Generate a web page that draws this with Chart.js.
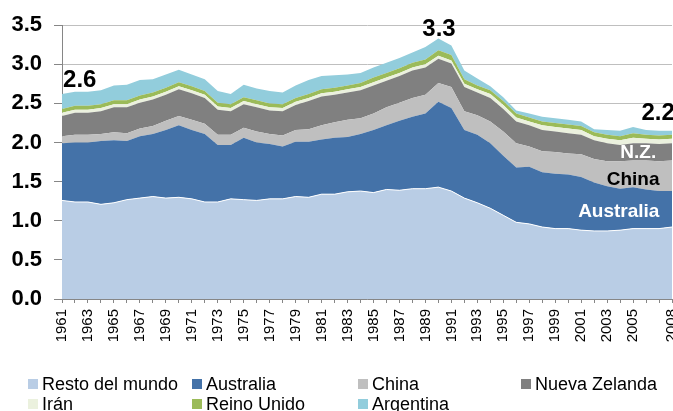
<!DOCTYPE html>
<html>
<head>
<meta charset="utf-8">
<script src="https://cdn.jsdelivr.net/npm/chart.js@4/dist/chart.umd.min.js"></script>
<style>
  html, body { margin: 0; padding: 0; background: #ffffff; }
  #wrap { width: 673px; height: 411px; position: relative; }
</style>
</head>
<body>
<div id="wrap"><canvas id="c" width="673" height="411"></canvas></div>
<script>
// ---- data ----
const years = [];
for (let y = 1961; y <= 2008; y++) years.push(String(y));

const seriesNames = ["Resto del mundo", "Australia", "China", "Nueva Zelanda", "Irán", "Reino Unido", "Argentina"];

const resto = [1.26,1.24,1.24,1.21,1.23,1.27,1.29,1.31,1.29,1.30, 1.28,1.24,1.24,1.28,1.27,1.26,1.28,1.28,1.31,1.30, 1.34,1.34,1.37,1.38,1.36,1.40,1.39,1.41,1.41,1.43, 1.38,1.29,1.23,1.16,1.07,0.98,0.96,0.92,0.90,0.90, 0.88,0.87,0.87,0.88,0.90,0.90,0.90,0.92];
const australia = [0.73,0.76,0.76,0.81,0.80,0.75,0.79,0.80,0.87,0.92, 0.88,0.87,0.73,0.69,0.79,0.74,0.70,0.67,0.70,0.71, 0.70,0.72,0.70,0.73,0.80,0.82,0.89,0.92,0.96,1.09, 1.06,0.87,0.87,0.83,0.76,0.70,0.73,0.70,0.70,0.69, 0.68,0.62,0.57,0.53,0.53,0.50,0.48,0.46];
const china = [0.09,0.10,0.10,0.09,0.10,0.10,0.10,0.10,0.12,0.12, 0.13,0.13,0.13,0.13,0.13,0.14,0.13,0.14,0.15,0.16, 0.18,0.20,0.22,0.20,0.21,0.23,0.23,0.24,0.24,0.24, 0.27,0.24,0.25,0.28,0.31,0.31,0.26,0.27,0.28,0.27, 0.29,0.30,0.32,0.35,0.34,0.37,0.38,0.39];
const nuevaZelanda = [0.26,0.28,0.28,0.29,0.32,0.33,0.33,0.34,0.33,0.34, 0.34,0.33,0.32,0.30,0.30,0.31,0.30,0.31,0.32,0.36, 0.37,0.35,0.35,0.36,0.36,0.34,0.34,0.35,0.35,0.31, 0.30,0.31,0.29,0.30,0.29,0.28,0.27,0.27,0.26,0.26, 0.25,0.24,0.23,0.21,0.22,0.22,0.22,0.22];
const iran = [0.04,0.04,0.04,0.04,0.04,0.04,0.04,0.04,0.04,0.04, 0.04,0.04,0.04,0.04,0.04,0.04,0.04,0.04,0.04,0.04, 0.04,0.04,0.04,0.04,0.04,0.04,0.04,0.04,0.04,0.04, 0.04,0.04,0.04,0.05,0.05,0.05,0.05,0.06,0.06,0.06, 0.06,0.05,0.06,0.06,0.07,0.06,0.06,0.06];
const reinoUnido = [0.05,0.05,0.05,0.05,0.05,0.05,0.05,0.05,0.05,0.05, 0.05,0.05,0.05,0.05,0.05,0.05,0.05,0.05,0.05,0.05, 0.05,0.05,0.05,0.05,0.06,0.06,0.06,0.06,0.06,0.07, 0.07,0.06,0.05,0.05,0.05,0.05,0.05,0.05,0.05,0.05, 0.05,0.05,0.05,0.05,0.06,0.05,0.05,0.05];
const argentina = [0.19,0.18,0.18,0.18,0.19,0.20,0.20,0.17,0.17,0.16, 0.15,0.15,0.15,0.13,0.16,0.15,0.16,0.15,0.16,0.18, 0.17,0.16,0.14,0.13,0.13,0.13,0.13,0.13,0.16,0.15, 0.12,0.11,0.09,0.05,0.05,0.04,0.05,0.06,0.06,0.06, 0.06,0.04,0.06,0.07,0.08,0.06,0.06,0.05];

const yTicks = [0, 0.5, 1.0, 1.5, 2.0, 2.5, 3.0, 3.5];
const shownYearLabels = ["1961","1963","1965","1967","1969","1971","1973","1975","1977","1979","1981","1983","1985","1987","1989","1991","1993","1995","1997","1999","2001","2003","2005","2008"];

const colors = ["#B9CDE5", "#4472A8", "#BFBFBF", "#808080", "#EBF1DE", "#9BBB59", "#92CDDC"];

// annotations: [text, category index, value, color, align, font size]
const notes = [
  ["2.6", 0.08, 2.80, "#000000", "left", 24],
  ["3.3", 29.05, 3.45, "#000000", "center", 24],
  ["2.2", 44.65, 2.37, "#000000", "left", 24],
  ["N.Z.", 44.4, 1.87, "#ffffff", "center", 19],
  ["China", 44.0, 1.52, "#000000", "center", 19],
  ["Australia", 42.9, 1.12, "#ffffff", "center", 19]
];

const FONT = "'Liberation Sans', Arial, Helvetica, sans-serif";
const allSeries = [resto, australia, china, nuevaZelanda, iran, reinoUnido, argentina];

const datasets = allSeries.map((d, i) => ({
  label: seriesNames[i],
  data: d,
  backgroundColor: colors[i],
  borderColor: i === 0 ? "#ffffff" : colors[i],
  borderWidth: i === 0 ? 1 : 0,
  fill: i === 0 ? "origin" : "-1",
  pointRadius: 0,
  pointHoverRadius: 0,
  tension: 0
}));

const notesPlugin = {
  id: "notes",
  afterDatasetsDraw(chart) {
    const ctx = chart.ctx, xs = chart.scales.x, ys = chart.scales.y;
    ctx.save();
    notes.forEach(n => {
      const x = xs.getPixelForValue(n[1]);
      const y = ys.getPixelForValue(n[2]);
      ctx.font = "bold " + n[5] + "px " + FONT;
      ctx.fillStyle = n[3];
      ctx.textAlign = n[4];
      ctx.textBaseline = "middle";
      ctx.fillText(n[0], x, y);
    });
    ctx.restore();
  }
};

const legendCols = [28, 192, 358, 521];
const legendRows = [384, 404];
const legendPlugin = {
  id: "gridLegend",
  afterDraw(chart) {
    const ctx = chart.ctx;
    ctx.save();
    ctx.font = "18px " + FONT;
    ctx.textBaseline = "middle";
    ctx.textAlign = "left";
    chart.data.datasets.forEach((ds, i) => {
      const col = i < 4 ? i : i - 4 + 0;
      const row = i < 4 ? 0 : 1;
      const cx = i < 4 ? legendCols[col] : legendCols[i - 4];
      const cy = legendRows[row];
      ctx.fillStyle = ds.backgroundColor;
      ctx.fillRect(cx, cy - 5, 10, 10);
      ctx.fillStyle = "#000000";
      ctx.fillText(ds.label, cx + 14, cy + 1);
    });
    ctx.restore();
  }
};

new Chart(document.getElementById("c"), {
  type: "line",
  data: { labels: years, datasets },
  plugins: [notesPlugin, legendPlugin],
  options: {
    responsive: false,
    animation: false,
    devicePixelRatio: 1,
    layout: { padding: { top: 20, right: 1, bottom: 0, left: 0 } },
    plugins: { legend: { display: false }, tooltip: { enabled: false } },
    elements: { line: { borderJoinStyle: "round" } },
    scales: {
      x: {
        type: "category",
        offset: false,
        grid: { drawOnChartArea: false, tickLength: 4, color: "#868686", tickColor: "#868686" },
        border: { color: "#868686", width: 1 },
        ticks: {
          autoSkip: false,
          maxRotation: 90,
          minRotation: 90,
          padding: 6,
          color: "#000000",
          font: { family: FONT, size: 15 },
          callback: function(v, i) {
            const l = this.getLabelForValue(v);
            return shownYearLabels.includes(l) ? l : "";
          }
        },
        afterFit(scale) { scale.height = 112; scale.paddingLeft = 0; scale.paddingRight = 0; }
      },
      y: {
        stacked: true,
        min: 0,
        max: 3.5,
        afterBuildTicks(scale) { scale.ticks = yTicks.map(v => ({ value: v })); },
        grid: { color: "#BFBFBF", borderDash: [2, 2], tickLength: 8, tickColor: "#868686", tickBorderDash: [] },
        border: { color: "#868686", width: 1 },
        ticks: {
          padding: 12,
          color: "#000000",
          font: { family: FONT, size: 22, weight: "bold" },
          callback: v => Number(v).toFixed(1)
        },
        afterFit(scale) { scale.width = 62; }
      }
    }
  }
});
</script>
</body>
</html>
